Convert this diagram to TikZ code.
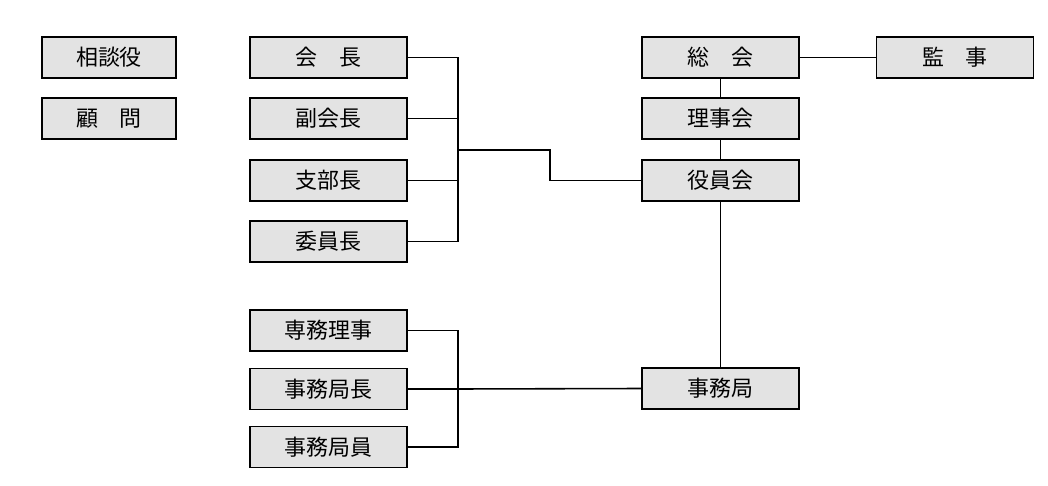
\documentclass[tikz,border=0pt]{standalone}
\usepackage{fontspec}
\newfontfamily\cjk{Noto Sans CJK JP}
\begin{document}
\begin{tikzpicture}[x=0.02cm,y=-0.02cm]
		\tikzstyle{post}=[draw,line width=0.9pt,fill=gray!22,minimum width=3.14cm,minimum height=0.82cm,inner sep=0pt,font=\cjk\fontsize{12.5}{14}\selectfont]
		\tikzstyle{small}=[post,minimum width=2.68cm]
		\tikzstyle{wire}=[line width=0.9pt]
		\useasboundingbox (0,0) rectangle (1048,486);
		
		\node[small](sodan) at (109,57.5){相談役};
		\node[small](komon) at (109,118.5){顧\hspace{1em}問};
		
		\node[post](kaicho) at (328.5,57.5){会\hspace{1em}長};
		\node[post](fuku) at (328.5,118.5){副会長};
		\node[post](shibu) at (328.5,180.5){支部長};
		\node[post](iin) at (328.5,241.5){委員長};
		
		\node[post](senmu) at (328.5,330.5){専務理事};
		\node[post](kyokucho) at (328.5,389){事務局長};
		\node[post](kyokuin) at (328.5,447){事務局員};
		
		\node[post](sokai) at (720.5,57.5){総\hspace{1em}会};
		\node[post](rijikai) at (720.5,118.5){理事会};
		\node[post](yakuin) at (720.5,180.5){役員会};
		\node[post](jimukyoku) at (720.5,388.5){事務局};
		\node[post](kanji) at (955,57.5){監\hspace{1em}事};
		
		\coordinate (bus1) at (458,150);
		\coordinate (bus2) at (458,389);
		
		\foreach \n in {kaicho,fuku,shibu,iin}
		\draw[wire] (\n.east) -| (bus1);
		\draw[wire] (bus1) -- (550,150) |- (yakuin.west);
		\foreach \n in {senmu,kyokucho,kyokuin}
		\draw[wire] (\n.east) -| (bus2);
		\draw[wire] (bus2) -- (jimukyoku.west);
		
		\draw[wire] (sokai) -- (kanji)
		(sokai) -- (rijikai)
		(rijikai) -- (yakuin)
		(yakuin) -- (jimukyoku);
		\end{tikzpicture}
\end{document}
